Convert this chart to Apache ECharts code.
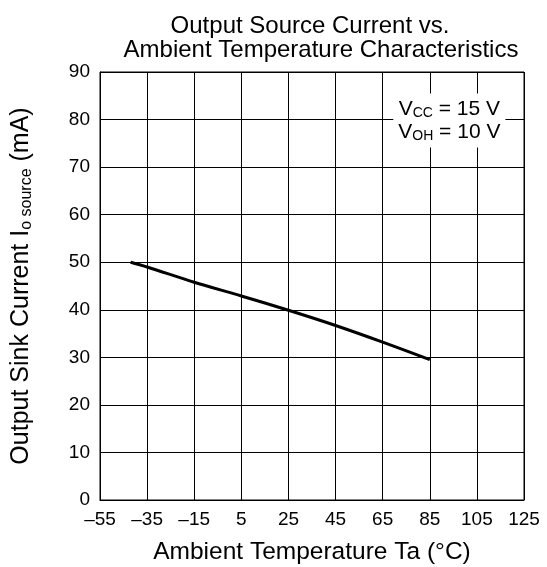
<!DOCTYPE html>
<html>
<head>
<meta charset="utf-8">
<script src="https://cdn.jsdelivr.net/npm/echarts@6/dist/echarts.min.js"></script>
<style>
html,body{margin:0;padding:0;background:#fff;}
#chart{width:547px;height:567px;}
</style>
</head>
<body>
<div id="chart"></div>
<script>
// Data
var temperatures = [-42, -35, -15, 5, 25, 45, 65, 85];
var sourceCurrent = [50.0, 49.0, 45.8, 42.9, 39.9, 36.7, 33.2, 29.5];
var xMin = -55, xMax = 125, xStep = 20;
var yMin = 0, yMax = 90, yStep = 10;
var titleLine1 = 'Output Source Current vs.';
var titleLine2 = 'Ambient Temperature Characteristics';
var xName = 'Ambient Temperature Ta (\u00B0C)';
var noteVcc = ['V', 'CC', ' = 15 V'];
var noteVoh = ['V', 'OH', ' = 10 V'];

var FONT = '"Liberation Sans", Arial, Helvetica, sans-serif';
var chart = echarts.init(document.getElementById('chart'));

var points = temperatures.map(function (t, i) { return [t, sourceCurrent[i]]; });

chart.setOption({
  backgroundColor: '#fff',
  animation: false,
  title: [
    { text: titleLine1, left: 305, top: 9, textAlign: 'center',
      textStyle: { fontFamily: FONT, fontSize: 24, fontWeight: 'normal', color: '#000' } },
    { text: titleLine2, left: 316, top: 33, textAlign: 'center',
      textStyle: { fontFamily: FONT, fontSize: 24, fontWeight: 'normal', color: '#000' } }
  ],
  grid: { left: 100, right: 23, top: 72, bottom: 67, outerBoundsMode: 'none', containLabel: false,
    show: true, borderColor: '#000', borderWidth: 1, backgroundColor: 'transparent' },
  xAxis: {
    type: 'value', min: xMin, max: xMax, interval: xStep,
    name: xName, nameLocation: 'middle', nameGap: 40,
    nameTextStyle: { fontFamily: FONT, fontSize: 24.5, color: '#000' },
    axisLine: { show: true, onZero: false, lineStyle: { color: '#000', width: 1 } },
    axisTick: { show: false },
    axisLabel: { fontFamily: FONT, fontSize: 19, color: '#000', margin: 10,
      formatter: function (v) { return v < 0 ? '\u2013' + Math.abs(v) : String(v); } },
    splitLine: { show: true, lineStyle: { color: '#000', width: 1 } }
  },
  yAxis: {
    type: 'value', min: yMin, max: yMax, interval: yStep,
    name: '{a|Output Sink Current I}{s|o source}{a| (mA)}',
    nameLocation: 'middle', nameGap: 65, nameRotate: 90,
    nameTextStyle: {
      fontFamily: FONT, fontSize: 25, color: '#000',
      rich: {
        a: { fontFamily: FONT, fontSize: 25, color: '#000', lineHeight: 28 },
        s: { fontFamily: FONT, fontSize: 16, color: '#000', lineHeight: 15, verticalAlign: 'bottom' }
      }
    },
    axisLine: { show: true, onZero: false, lineStyle: { color: '#000', width: 1 } },
    axisTick: { show: false },
    axisLabel: { fontFamily: FONT, fontSize: 19, color: '#000', margin: 10 },
    splitLine: { show: true, lineStyle: { color: '#000', width: 1 } }
  },
  series: [{
    type: 'line',
    data: points,
    smooth: 0.3,
    showSymbol: false,
    symbol: 'none',
    lineStyle: { color: '#000', width: 3 },
    z: 5
  }]
});

var c = chart.convertToPixel({ gridIndex: 0 }, [93.3, 79.8]);
chart.setOption({
  graphic: [{
    type: 'text',
    x: c[0], y: c[1], z: 100,
    style: {
      text: '{v|' + noteVcc[0] + '}{s|' + noteVcc[1] + '}{v|' + noteVcc[2] + '}\n' +
            '{v|' + noteVoh[0] + '}{s|' + noteVoh[1] + '}{v|' + noteVoh[2] + '}',
      align: 'center', verticalAlign: 'middle',
      backgroundColor: '#fff',
      padding: [4, 5, 4, 5],
      fill: '#000',
      rich: {
        v: { fontFamily: FONT, fontSize: 21, lineHeight: 23, fill: '#000' },
        s: { fontFamily: FONT, fontSize: 14, lineHeight: 12, fill: '#000', verticalAlign: 'bottom' }
      }
    }
  }]
});
</script>
</body>
</html>
